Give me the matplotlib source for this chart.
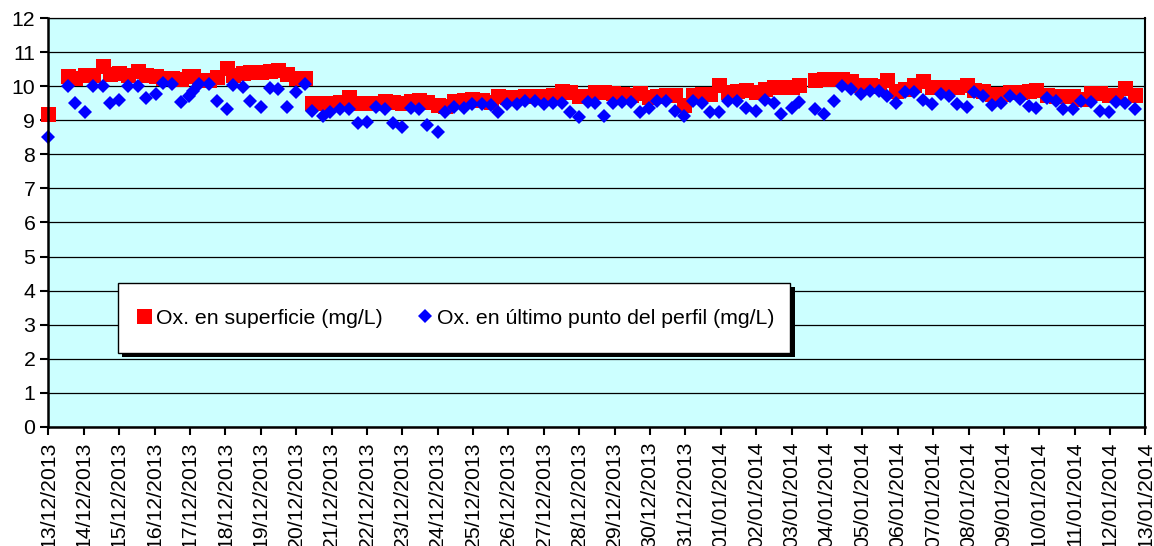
import numpy as np
import matplotlib.pyplot as plt
import matplotlib.dates as mdates
import matplotlib.patheffects as pe
from matplotlib.patches import Rectangle

plt.rcParams['font.family'] = ['Liberation Sans', 'DejaVu Sans']

# horas desde el 13/12/2013 00:00
horas = [0, 13, 18, 25, 30, 37, 42, 48, 54, 61, 66, 73, 78, 84, 90, 95, 98, 102,
         109, 114, 121, 125, 132, 137, 144, 150, 156, 162, 168, 174, 179, 186, 191,
         198, 204, 210, 216, 222, 228, 234, 240, 246, 251, 257, 264, 269, 275, 282,
         287, 294, 300, 305, 311, 318, 323, 330, 336, 342, 348, 354, 360, 366, 371,
         377, 383, 389, 395, 401, 407, 413, 419, 425, 431, 437, 443, 449, 455, 461,
         467, 473, 480, 486, 492, 497, 504, 509, 520, 526, 533, 538, 544, 551, 557,
         563, 569, 575, 581, 587, 593, 599, 605, 611, 616, 623, 628, 634, 640, 646,
         652, 659, 665, 670, 677, 683, 688, 695, 700, 707, 713, 719, 724, 730, 737]

superficie = [9.18, 10.3, 10.24, 10.32, 10.34, 10.58, 10.37, 10.4, 10.32, 10.45, 10.32,
              10.3, 10.24, 10.24, 10.22, 10.3, 10.3, 10.17, 10.17, 10.27, 10.53, 10.34,
              10.4, 10.42, 10.42, 10.44, 10.47, 10.37, 10.24, 10.24, 9.52, 9.5, 9.52,
              9.54, 9.67, 9.52, 9.5, 9.52, 9.57, 9.55, 9.5, 9.57, 9.59, 9.55, 9.45, 9.43,
              9.57, 9.59, 9.62, 9.59, 9.55, 9.7, 9.67, 9.67, 9.72, 9.72, 9.72, 9.74,
              9.87, 9.82, 9.72, 9.72, 9.84, 9.84, 9.8, 9.77, 9.74, 9.8, 9.67, 9.72, 9.74,
              9.74, 9.45, 9.74, 9.77, 9.77, 10.04, 9.82, 9.87, 9.9, 9.82, 9.92, 9.97,
              9.97, 9.97, 10.04, 10.17, 10.2, 10.22, 10.22, 10.14, 10.04, 10.04, 10.0,
              10.17, 9.87, 9.92, 10.04, 10.14, 9.97, 9.99, 9.99, 9.99, 10.02, 9.9, 9.87,
              9.77, 9.77, 9.84, 9.84, 9.87, 9.89, 9.74, 9.72, 9.72, 9.7, 9.62, 9.8, 9.8,
              9.74, 9.75, 9.94, 9.75]

fondo = [8.51, 10.0, 9.52, 9.23, 10.0, 10.0, 9.52, 9.6, 10.0, 10.0, 9.64, 9.77, 10.1,
         10.07, 9.54, 9.72, 9.87, 10.05, 10.05, 9.57, 9.33, 10.02, 9.97, 9.57, 9.4,
         9.94, 9.92, 9.4, 9.84, 10.07, 9.28, 9.13, 9.23, 9.33, 9.33, 8.91, 8.95, 9.38,
         9.33, 8.93, 8.81, 9.35, 9.33, 8.85, 8.65, 9.23, 9.38, 9.35, 9.48, 9.48, 9.45,
         9.23, 9.48, 9.48, 9.57, 9.57, 9.48, 9.52, 9.52, 9.25, 9.11, 9.54, 9.52, 9.13,
         9.5, 9.54, 9.54, 9.25, 9.35, 9.57, 9.57, 9.28, 9.13, 9.57, 9.5, 9.23, 9.25,
         9.57, 9.57, 9.35, 9.28, 9.6, 9.5, 9.18, 9.35, 9.54, 9.33, 9.18, 9.57, 10.0,
         9.92, 9.77, 9.87, 9.87, 9.72, 9.5, 9.82, 9.84, 9.6, 9.47, 9.77, 9.72, 9.47,
         9.38, 9.82, 9.72, 9.45, 9.5, 9.72, 9.62, 9.43, 9.35, 9.64, 9.57, 9.33, 9.33,
         9.57, 9.54, 9.28, 9.25, 9.54, 9.52, 9.33]

inicio = np.datetime64('2013-12-13T00:00')
fin = np.datetime64('2014-01-13T00:00')
fechas = inicio + np.array(horas).astype('timedelta64[h]')

fig = plt.figure(figsize=(11.54, 5.46), dpi=100)
ax = fig.add_axes([0.042, 0.218, 0.9506, 0.749])
ax.set_facecolor('#CCFFFF')

ax.plot(fechas, superficie, 's', color='#FF0000', ms=10.8, mew=0, clip_on=False,
        label='Ox. en superficie (mg/L)')
ax.plot(fechas, fondo, 'D', color='#0000FF', ms=7.6, mew=0, clip_on=False,
        label='Ox. en último punto del perfil (mg/L)')

ax.set_xlim(inicio, fin)
ax.set_ylim(0, 12)
ax.set_yticks(range(0, 13))
ax.grid(axis='y', color='black', lw=0.9)
ax.set_axisbelow(True)

ax.xaxis.set_major_locator(mdates.DayLocator())
ax.xaxis.set_major_formatter(mdates.DateFormatter('%d/%m/%Y'))
plt.setp(ax.get_xticklabels(), rotation=90, va='top', ha='center')
ax.tick_params(labelsize=15.3, width=1.5, length=6, direction='out')
ax.tick_params(axis='x', pad=4.5)

for s in ['left', 'bottom']:
    ax.spines[s].set_linewidth(1.8)
ax.spines['right'].set_linewidth(1.5)
ax.spines['top'].set_linewidth(0.9)

# caja de la leyenda con sombra negra
caja = (0.0634, 0.181, 0.6128, 0.171)
marco = Rectangle(caja[:2], caja[2], caja[3], transform=ax.transAxes,
                  facecolor='white', edgecolor='black', lw=1.0, zorder=4.9,
                  clip_on=False)
marco.set_path_effects([pe.SimplePatchShadow(offset=(3.2, -3.2), shadow_rgbFace='black',
                                             alpha=1), pe.Normal()])
ax.add_patch(marco)

leg = ax.legend(loc='center', bbox_to_anchor=caja, ncol=2, fontsize=15.3,
                frameon=False, borderpad=0, borderaxespad=0, columnspacing=1.5,
                handletextpad=0.05, handlelength=1.0, handleheight=0.8,
                markerscale=1.0)

fig.savefig('out.png', dpi=100)
